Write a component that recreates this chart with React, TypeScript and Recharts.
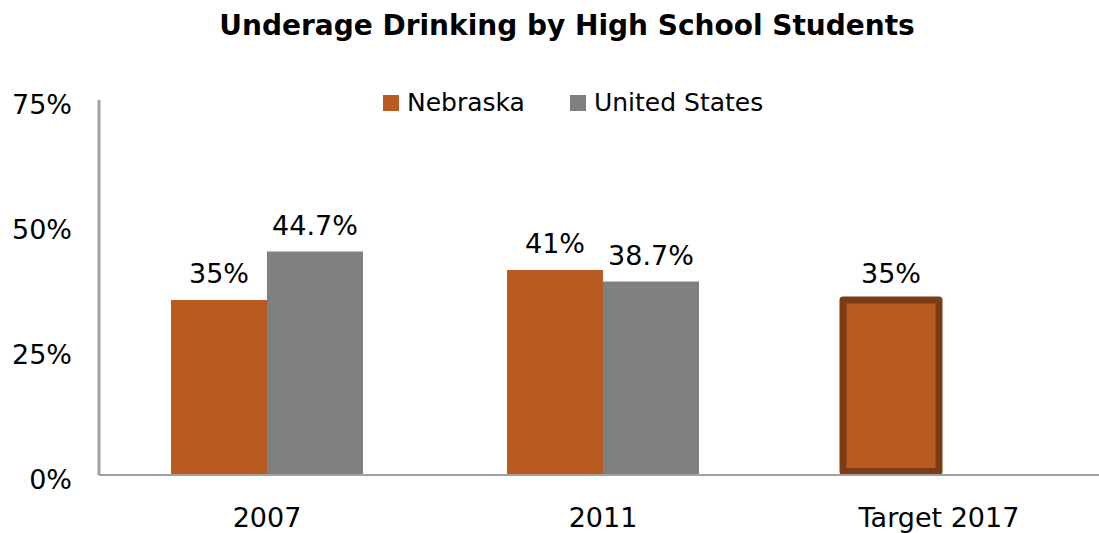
import React from "react";
import { BarChart, Bar, XAxis, YAxis, LabelList } from "recharts";

const categories = ["2007", "2011", "Target 2017"];
const nebraska = [35, 41, 35];
const unitedStates: (number | null)[] = [44.7, 38.7, null];
const yTicks = [0, 25, 50, 75];

const data = categories.map((c, i) => ({
  name: c,
  nebraska: nebraska[i],
  us: unitedStates[i],
}));

const FONT = "'DejaVu Sans', sans-serif";
const ORANGE = "#B85A22";
const GRAY = "#808080";
const DARK = "#7A3D17";

const fmt = (v: any) => (v === null || v === undefined ? "" : `${v}%`);

const YTick = (props: any) => {
  const { x, y, payload } = props;
  return (
    <text x={x - 27} y={y + 14} textAnchor="end" fill="#000" fontSize={27} fontFamily={FONT}>
      {`${payload.value}%`}
    </text>
  );
};

const XTick = (props: any) => {
  const { x, y, payload } = props;
  return (
    <text x={x} y={y + 52} textAnchor="middle" fill="#000" fontSize={27} fontFamily={FONT}>
      {payload.value}
    </text>
  );
};

const NebraskaShape = (props: any) => {
  const { x, y, width, height, index } = props;
  if (index === 2) {
    const sw = 7;
    return (
      <rect
        x={x}
        y={y}
        width={width}
        height={Math.max(0, height - sw / 2)}
        fill={ORANGE}
        stroke={DARK}
        strokeWidth={sw}
        strokeLinejoin="round"
      />
    );
  }
  return <rect x={x} y={y} width={width} height={height} fill={ORANGE} />;
};

const labelStyle = { fontFamily: FONT, fontSize: 27, fill: "#000" };

export default function App() {
  return (
    <div style={{ position: "absolute", left: 0, top: 0, width: 1099, height: 533, background: "#fff", overflow: "hidden" }}>
      <div
        style={{
          position: "absolute",
          left: 0,
          width: 1134,
          top: 8,
          textAlign: "center",
          fontFamily: FONT,
          fontWeight: "bold",
          fontSize: 28,
          color: "#000",
          lineHeight: "36px",
        }}
      >
        Underage Drinking by High School Students
      </div>
      <div
        style={{
          position: "absolute",
          left: 383,
          top: 88,
          display: "flex",
          alignItems: "center",
          fontFamily: FONT,
          fontSize: 25,
          color: "#000",
          lineHeight: "30px",
        }}
      >
        <span style={{ display: "inline-block", width: 16, height: 16, background: ORANGE, marginRight: 8 }} />
        <span style={{ marginRight: 45 }}>Nebraska</span>
        <span style={{ display: "inline-block", width: 16, height: 16, background: GRAY, marginRight: 8 }} />
        <span>United States</span>
      </div>
      <div style={{ position: "absolute", left: 0, top: 0 }}>
        <BarChart
          width={1099}
          height={533}
          data={data}
          margin={{ top: 100, right: -8, bottom: 0, left: 0 }}
          barGap={0}
          barCategoryGap={72}
        >
          <XAxis
            dataKey="name"
            height={58}
            tickLine={false}
            tickSize={0}
            tickMargin={0}
            axisLine={{ stroke: "#A0A0A0", strokeWidth: 2 }}
            tick={<XTick />}
            interval={0}
          />
          <YAxis
            width={99}
            domain={[0, 75]}
            ticks={yTicks}
            tickLine={false}
            tickSize={0}
            tickMargin={0}
            axisLine={{ stroke: "#A0A0A0", strokeWidth: 3 }}
            tick={<YTick />}
            interval={0}
          />
          <Bar dataKey="nebraska" fill={ORANGE} shape={<NebraskaShape />} isAnimationActive={false}>
            <LabelList dataKey="nebraska" position="top" offset={17} formatter={fmt} style={labelStyle} />
          </Bar>
          <Bar dataKey="us" fill={GRAY} isAnimationActive={false}>
            <LabelList dataKey="us" position="top" offset={17} formatter={fmt} style={labelStyle} />
          </Bar>
        </BarChart>
      </div>
    </div>
  );
}
